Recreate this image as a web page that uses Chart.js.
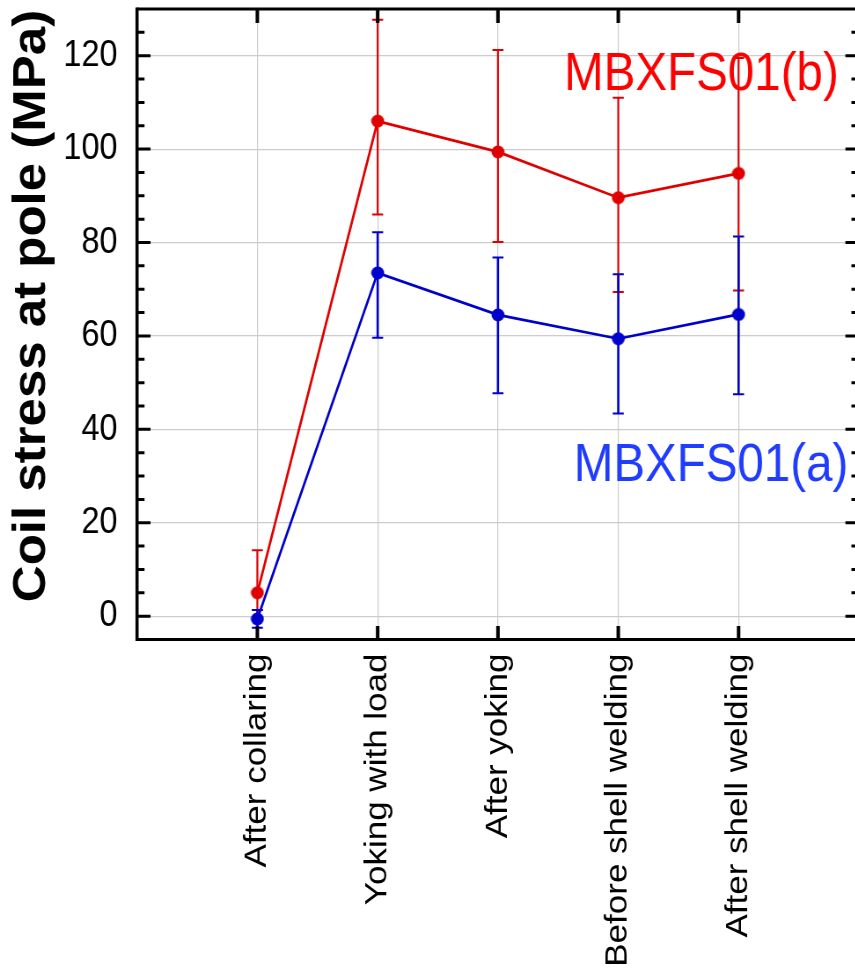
<!DOCTYPE html>
<html>
<head>
<meta charset="utf-8">
<script src="https://cdn.jsdelivr.net/npm/chart.js@4/dist/chart.umd.min.js"></script>
<style>
    html, body { margin: 0; padding: 0; background: #fff; overflow: hidden; }
    #coil-chart {
        display: block;
        width: 980px;
        height: 973px;
        transform: scaleX(0.88);
        transform-origin: 0 0;
    }
</style>
</head>
<body>
<canvas id="coil-chart" width="980" height="973"></canvas>
<script>
// ─── Data ───────────────────────────────────────────────────

const categories = ['After collaring', 'Yoking with load', 'After yoking', 'Before shell welding', 'After shell welding'];
const xPositions = [1, 2, 3, 4, 5];
const yTicks     = [0, 20, 40, 60, 80, 100, 120];

// MBXFS01(b)
const stressB     = [5.0, 106.0, 99.4, 89.6, 94.8];
const stressBLow  = [1.3, 86.0, 80.1, 69.4, 69.7];
const stressBHigh = [14.1, 127.7, 121.2, 111.0, 119.5];

// MBXFS01(a)
const stressA     = [-0.6, 73.5, 64.5, 59.4, 64.6];
const stressALow  = [-2.5, 59.6, 47.7, 43.4, 47.5];
const stressAHigh = [1.3, 82.2, 76.8, 73.2, 81.3];

(function () {
    'use strict';

    const SX   = 0.88;   // horizontal squeeze applied with CSS
    const FONT = '"Liberation Sans", Arial, Helvetica, sans-serif';
    const RED  = '#e00000';
    const BLUE = '#0000cc';

    // ─── Helpers ────────────────────────────────────────────────

    // round marker once the canvas is squeezed horizontally
    function makeDot(color) {
        const r = 6.5;
        const c = document.createElement('canvas');
        c.width = Math.ceil(2 * r / SX) + 1;
        c.height = 2 * r + 1;
        const g = c.getContext('2d');
        g.fillStyle = color;
        g.beginPath();
        g.ellipse(c.width / 2, c.height / 2, r / SX, r, 0, 0, Math.PI * 2);
        g.fill();
        return c;
    }

    function points(ys) {
        return xPositions.map((x, i) => ({ x, y: ys[i] }));
    }

    function noPadding(s) {
        s.paddingTop = 0; s.paddingBottom = 0;
        s.paddingLeft = 0; s.paddingRight = 0;
    }

    const series = [
        { label: 'MBXFS01(b)', data: stressB, low: stressBLow, high: stressBHigh,
          color: RED, textColor: '#ff0000', barWidth: 2.2, at: { x: 3.55, y: 112.7 } },
        { label: 'MBXFS01(a)', data: stressA, low: stressALow, high: stressAHigh,
          color: BLUE, textColor: '#1f3cff', barWidth: 2.6, at: { x: 3.63, y: 29.0 } },
    ];

    // ─── Plugin: frame, inward ticks, error bars, labels ───────

    const decor = {
        id: 'decor',
        beforeDatasetsDraw(chart) {
            const ctx = chart.ctx;
            const xs = chart.scales.x, ys = chart.scales.y;
            const cap = 5.5 / SX;
            ctx.save();
            series.forEach(function (s) {
                ctx.strokeStyle = s.color;
                xPositions.forEach(function (xv, i) {
                    const px = xs.getPixelForValue(xv);
                    const lo = ys.getPixelForValue(s.low[i]);
                    const hi = ys.getPixelForValue(s.high[i]);
                    ctx.lineWidth = s.barWidth;
                    ctx.beginPath();
                    ctx.moveTo(px, lo); ctx.lineTo(px, hi);
                    ctx.stroke();
                    ctx.lineWidth = 2;
                    ctx.beginPath();
                    ctx.moveTo(px - cap, lo); ctx.lineTo(px + cap, lo);
                    ctx.moveTo(px - cap, hi); ctx.lineTo(px + cap, hi);
                    ctx.stroke();
                });
            });
            ctx.restore();
        },
        afterDraw(chart) {
            const ctx = chart.ctx;
            const a = chart.chartArea;
            const xs = chart.scales.x, ys = chart.scales.y;
            ctx.save();
            ctx.strokeStyle = '#000';

            // frame
            ctx.lineWidth = 3;
            ctx.beginPath();
            ctx.moveTo(a.left, a.top); ctx.lineTo(a.right, a.top);
            ctx.moveTo(a.left, a.bottom); ctx.lineTo(a.right, a.bottom);
            ctx.stroke();
            ctx.lineWidth = 3.6;
            ctx.beginPath();
            ctx.moveTo(a.left, a.top - 1.5); ctx.lineTo(a.left, a.bottom + 1.5);
            ctx.moveTo(a.right, a.top - 1.5); ctx.lineTo(a.right, a.bottom + 1.5);
            ctx.stroke();

            // y ticks, major + minor, left and right
            ctx.lineWidth = 3;
            for (let v = -5; v <= 130; v += 5) {
                const py = ys.getPixelForValue(v);
                if (py <= a.top + 2 || py >= a.bottom - 2) continue;
                const len = (v % 20 === 0 ? 13.5 : 7.5) / SX;
                ctx.beginPath();
                ctx.moveTo(a.left, py); ctx.lineTo(a.left + len, py);
                ctx.moveTo(a.right, py); ctx.lineTo(a.right - len, py);
                ctx.stroke();
            }

            // x ticks, top and bottom
            ctx.lineWidth = 3.5 / SX;
            xPositions.forEach(function (xv) {
                const px = xs.getPixelForValue(xv);
                ctx.beginPath();
                ctx.moveTo(px, a.bottom); ctx.lineTo(px, a.bottom - 13.5);
                ctx.moveTo(px, a.top); ctx.lineTo(px, a.top + 14);
                ctx.stroke();
            });

            // series labels
            ctx.font = '54px ' + FONT;
            ctx.textAlign = 'left';
            ctx.textBaseline = 'alphabetic';
            series.forEach(function (s) {
                ctx.fillStyle = s.textColor;
                ctx.fillText(s.label, xs.getPixelForValue(s.at.x), ys.getPixelForValue(s.at.y));
            });

            // y axis title
            ctx.translate(51, 306);
            ctx.rotate(-Math.PI / 2);
            ctx.font = 'bold 51px ' + FONT;
            ctx.fillStyle = '#000';
            ctx.textAlign = 'center';
            ctx.fillText('Coil stress at pole (MPa)', 0, 0);
            ctx.restore();
        },
    };

    // ─── Chart ──────────────────────────────────────────────────

    const ctx = document.getElementById('coil-chart');
    new Chart(ctx, {
        type: 'line',
        data: {
            datasets: series.map(function (s) {
                return {
                    label: s.label,
                    data: points(s.data),
                    borderColor: s.color,
                    backgroundColor: s.color,
                    borderWidth: 2.7,
                    pointStyle: makeDot(s.color),
                    pointRadius: 6.5,
                    tension: 0,
                    clip: false,
                };
            }),
        },
        options: {
            responsive: false,
            animation: false,
            devicePixelRatio: 1,
            layout: { autoPadding: false, padding: { top: 9, right: 4, left: 0, bottom: 0 } },
            plugins: { legend: { display: false }, tooltip: { enabled: false } },
            scales: {
                x: {
                    type: 'linear',
                    min: 0,
                    max: 6,
                    afterBuildTicks: function (s) { s.ticks = xPositions.map(v => ({ value: v })); },
                    afterFit: function (s) { s.height = 333.5; noPadding(s); },
                    grid: { color: '#cccccc', lineWidth: 1.2, drawTicks: false },
                    border: { display: false },
                    ticks: {
                        autoSkip: false,
                        minRotation: 90,
                        maxRotation: 90,
                        padding: 14,
                        color: '#000',
                        font: { family: FONT, size: 35 },
                        callback: function (v) { return categories[v - 1] || ''; },
                    },
                },
                y: {
                    min: -5,
                    max: 130,
                    afterBuildTicks: function (s) { s.ticks = yTicks.map(v => ({ value: v })); },
                    afterFit: function (s) { s.width = 155.7; noPadding(s); },
                    grid: { color: '#cccccc', lineWidth: 1.2, drawTicks: false },
                    border: { display: false },
                    ticks: {
                        padding: 22,
                        color: '#000',
                        font: { family: FONT, size: 37 },
                    },
                },
            },
        },
        plugins: [decor],
    });
})();
</script>
</body>
</html>
